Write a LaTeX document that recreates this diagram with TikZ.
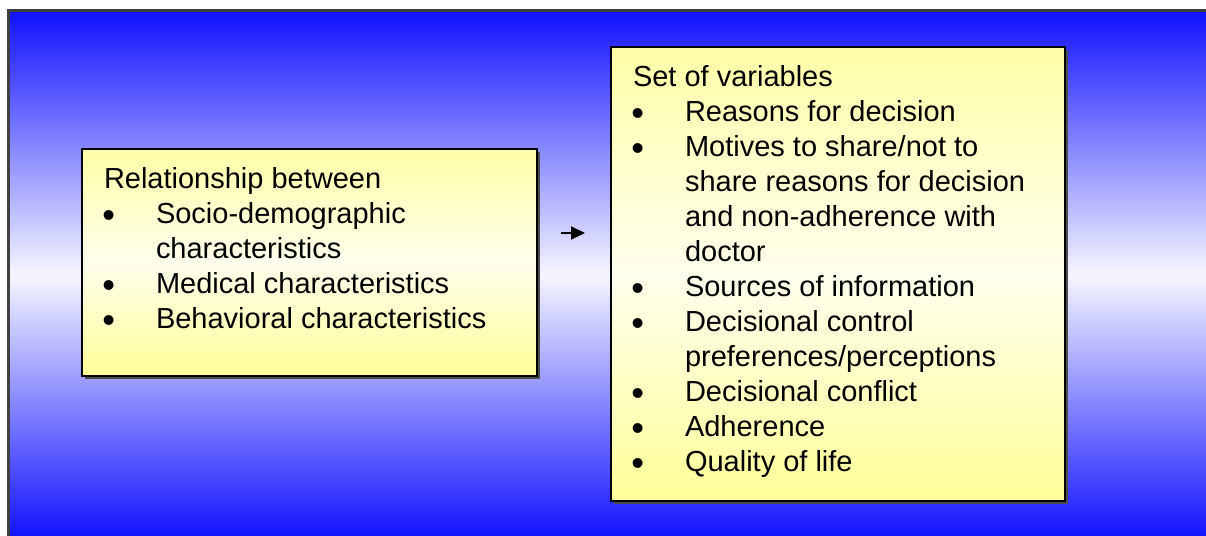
\documentclass[tikz,border=0pt]{standalone}
\usepackage{fontspec}
\setmainfont{Liberation Sans}
\usetikzlibrary{arrows.meta, positioning, shadows}

\definecolor{bgblue}{RGB}{16,16,255}
\definecolor{bgwhite}{RGB}{246,246,255}
\definecolor{frameline}{RGB}{64,64,64}
\definecolor{boxtop}{RGB}{255,255,168}
\definecolor{boxmid}{RGB}{255,255,238}
\definecolor{boxbottom}{RGB}{255,255,153}

\newcommand{\bulletitem}[1]{\par\noindent\hangindent=26pt\hangafter=1\makebox[26pt][l]{\hspace{-0.8pt}\raisebox{-1.8pt}{\scalebox{1.25}{\textbullet}}}#1}

\begin{document}
\begin{tikzpicture}[x=0.5pt, y=-0.5pt,
    infobox/.style={draw=black, line width=1pt, anchor=north west,
      inner xsep=11pt, inner ysep=7.5pt,
      top color=boxtop, bottom color=boxbottom, middle color=boxmid,
      drop shadow={shadow xshift=1.5pt, shadow yshift=-1.5pt, fill=black!70, opacity=1},
      font=\fontsize{14.5}{17.5}\selectfont},
    link/.style={line width=1pt, -{Triangle[length=7pt, width=6.5pt]}}]

  % Background panel
  \useasboundingbox (0,0) rectangle (1206,536);
  \clip (0,0) rectangle (1206,536);
  \shade[top color=bgblue, bottom color=bgblue, middle color=bgwhite] (8,10) rectangle (1210,540);
  \draw[frameline, line width=1.5pt] (8,540) -- (8,10) -- (1210,10);

  % Left box
  \node[infobox] (relation) at (81,148) {\begin{minipage}[t][98.5pt][t]{205.5pt}\strut Relationship between
    \bulletitem{Socio-demographic\\characteristics}
    \bulletitem{Medical characteristics}
    \bulletitem{Behavioral characteristics}
  \end{minipage}};

  % Right box
  \node[infobox] (variables) at (610,46) {\begin{minipage}[t][212pt][t]{205pt}\strut Set of variables
    \bulletitem{Reasons for decision}
    \bulletitem{Motives to share/not to\\share reasons for decision\\and non-adherence with\\doctor}
    \bulletitem{Sources of information}
    \bulletitem{Decisional control\\preferences/perceptions}
    \bulletitem{Decisional conflict}
    \bulletitem{Adherence}
    \bulletitem{Quality of life}
  \end{minipage}};

  % Arrow between the boxes
  \coordinate (arrowtail) at (561,233);
  \coordinate (arrowtip) at (585,233);
  \draw[link] (arrowtail) -- (arrowtip);
\end{tikzpicture}
\end{document}
